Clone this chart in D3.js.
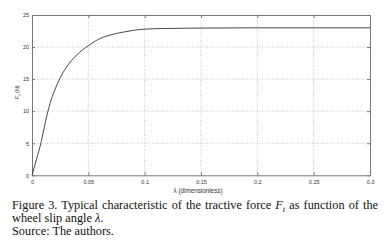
<!DOCTYPE html>
<html>
<head>
<meta charset="utf-8">
<script src="https://cdn.jsdelivr.net/npm/d3@7"></script>
<style>
  body { margin: 0; background: #fff; }
  .tick text { font-family: Arial, "Liberation Sans", sans-serif; font-size: 5.5px; fill: #333; }
  .cap { font-family: "Liberation Serif", "Times New Roman", serif; font-size: 12.3px; fill: #111; }
</style>
</head>
<body>
<div id="chart"></div>
<script>
var width = 390;
var height = 248;

// slip ratio (dimensionless) and tractive force (N)
var lambda = [0, 0.004, 0.008, 0.012, 0.016, 0.02, 0.025, 0.03, 0.035, 0.04, 0.045, 0.05,
              0.06, 0.07, 0.08, 0.09, 0.1, 0.12, 0.14, 0.16, 0.2, 0.25, 0.3];
var force = [0, 2.5, 5.1, 8.4, 11.2, 13.2, 15.2, 16.7, 17.9, 18.8, 19.6, 20.2,
             21.3, 21.9, 22.3, 22.6, 22.8, 22.9, 22.95, 22.97, 23, 23, 23];

var xTicks = [0, 0.05, 0.1, 0.15, 0.2, 0.25, 0.3];
var xTickLabels = ["0", "0.05", "0.1", "0.15", "0.2", "0.25", "0.3"];
var yTicks = [0, 5, 10, 15, 20, 25];

var captionLines = [
  "Figure 3. Typical characteristic of the tractive force",
  "wheel slip angle ",
  "Source: The authors."
];

var margin = { left: 32, top: 15, right: 20, bottom: 73 };
var pw = 370 - margin.left;
var ph = 175.3 - margin.top;

var svg = d3.select("#chart")
  .append("svg")
  .attr("width", width)
  .attr("height", height);

var xScale = d3.scaleLinear().domain([0, 0.3]).range([0, pw]);
var yScale = d3.scaleLinear().domain([0, 25]).range([ph, 0]);

var g = svg.append("g")
  .attr("transform", "translate(" + margin.left + "," + margin.top + ")");

// dotted grid
g.append("g")
  .selectAll("line")
  .data(xTicks.slice(1, -1))
  .enter()
  .append("line")
  .attr("x1", d => xScale(d)).attr("x2", d => xScale(d))
  .attr("y1", 0).attr("y2", ph)
  .attr("stroke", "#aaa")
  .attr("stroke-width", 0.7)
  .attr("stroke-dasharray", "1,1.5");

g.append("g")
  .selectAll("line")
  .data(yTicks.slice(1, -1))
  .enter()
  .append("line")
  .attr("y1", d => yScale(d)).attr("y2", d => yScale(d))
  .attr("x1", 0).attr("x2", pw)
  .attr("stroke", "#aaa")
  .attr("stroke-width", 0.7)
  .attr("stroke-dasharray", "1,1.5");

// axes, ticks inside
var xAxis = d3.axisBottom(xScale)
  .tickValues(xTicks)
  .tickFormat((d, i) => xTickLabels[i])
  .tickSizeInner(-3)
  .tickSizeOuter(0)
  .tickPadding(5);

var yAxis = d3.axisLeft(yScale)
  .tickValues(yTicks)
  .tickSizeInner(-3)
  .tickSizeOuter(0)
  .tickPadding(3);

g.append("g")
  .attr("transform", "translate(0," + ph + ")")
  .call(xAxis)
  .call(a => a.select(".domain").attr("stroke", "#777"))
  .call(a => a.selectAll(".tick line").attr("stroke", "#777"));

g.append("g")
  .call(yAxis)
  .call(a => a.select(".domain").attr("stroke", "#777"))
  .call(a => a.selectAll(".tick line").attr("stroke", "#777"));

// top and right ticks
g.append("g")
  .call(d3.axisTop(xScale).tickValues(xTicks).tickSizeInner(-3).tickSizeOuter(0).tickFormat(""))
  .call(a => a.select(".domain").attr("stroke", "#777"))
  .call(a => a.selectAll(".tick line").attr("stroke", "#777"));

g.append("g")
  .attr("transform", "translate(" + pw + ",0)")
  .call(d3.axisRight(yScale).tickValues(yTicks).tickSizeInner(-3).tickSizeOuter(0).tickFormat(""))
  .call(a => a.select(".domain").attr("stroke", "#777"))
  .call(a => a.selectAll(".tick line").attr("stroke", "#777"));

// curve
var line = d3.line()
  .x((d, i) => xScale(lambda[i]))
  .y(d => yScale(d))
  .curve(d3.curveMonotoneX);

g.append("path")
  .datum(force)
  .attr("d", line)
  .attr("fill", "none")
  .attr("stroke", "#333")
  .attr("stroke-width", 0.9);

// axis titles
g.append("text")
  .attr("x", pw / 2 - 3)
  .attr("y", ph + 17.5)
  .attr("text-anchor", "middle")
  .style("font-family", "Arial, 'Liberation Sans', sans-serif")
  .style("font-size", "6.3px")
  .attr("fill", "#333")
  .text("\u03bb (dimensionless)");

var yl = g.append("text")
  .attr("transform", "translate(-13," + (ph / 2 - 3) + ") rotate(-90)")
  .attr("text-anchor", "middle")
  .style("font-family", "Arial, 'Liberation Sans', sans-serif")
  .style("font-size", "5.5px")
  .attr("fill", "#333");
yl.append("tspan").text("F");
yl.append("tspan").attr("dy", 1.5).style("font-size", "4px").text("t");
yl.append("tspan").attr("dy", -1.5).text(" (N)");

// caption
var c1 = svg.append("text").attr("class", "cap").attr("x", 12).attr("y", 209);
c1.append("tspan").text(captionLines[0] + " ");
c1.append("tspan").style("font-style", "italic").text("F");
c1.append("tspan").attr("dy", 2.5).style("font-style", "italic").style("font-size", "8.5px").text("t");
c1.append("tspan").attr("dy", -2.5).text(" as function of the");

var c2 = svg.append("text").attr("class", "cap").attr("x", 12).attr("y", 222);
c2.append("tspan").text(captionLines[1]);
c2.append("tspan").style("font-style", "italic").text("\u03bb");
c2.append("tspan").text(".");

svg.append("text").attr("class", "cap").attr("x", 12).attr("y", 235).text(captionLines[2]);

// stretch first caption line to the justified width
var w = c1.node().getComputedTextLength();
if (w < 367) {
  var gaps = (captionLines[0] + " F t as function of the").split(" ").length - 1;
  c1.attr("word-spacing", ((367 - w) / gaps) + "px");
}
</script>
</body>
</html>
